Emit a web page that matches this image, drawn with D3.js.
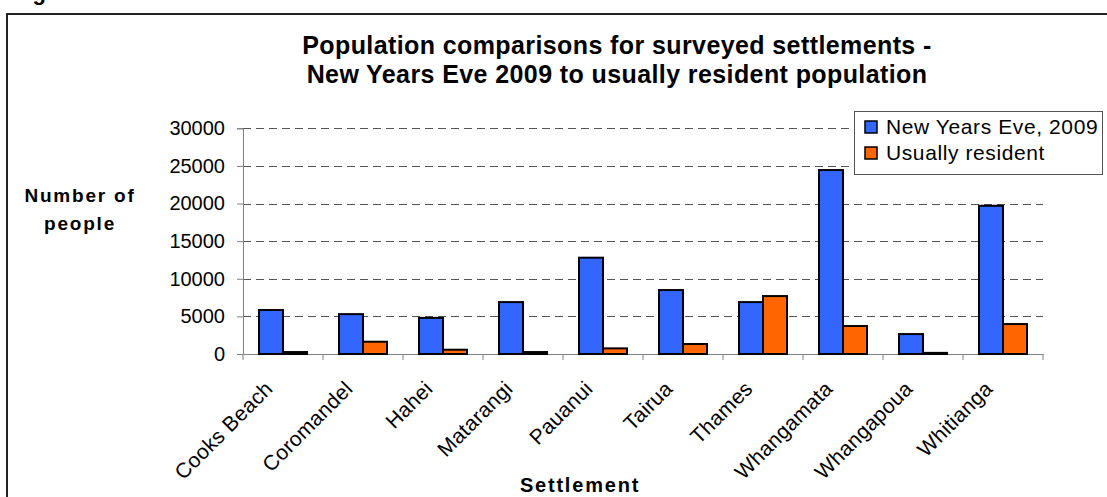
<!DOCTYPE html>
<html><head><meta charset="utf-8">
<script src="https://cdn.jsdelivr.net/npm/d3@7"></script>
<style>
html,body{margin:0;padding:0;background:#fff;}
svg{display:block;font-family:Arial,"Liberation Sans",sans-serif;}
</style></head>
<body>
<svg id="chart" width="1107" height="497"></svg>
<script>
const categories = ["Cooks Beach","Coromandel","Hahei","Matarangi","Pauanui","Tairua","Thames","Whangamata","Whangapoua","Whitianga"];
const nye2009 = [5850, 5300, 4800, 6900, 12800, 8500, 6900, 24450, 2650, 19700];
const usuallyResident = [260, 1630, 570, 260, 750, 1330, 7700, 3720, 150, 3980];
const seriesNames = ["New Years Eve, 2009", "Usually resident"];
const seriesColors = ["#3366FF", "#FF6600"];
const yTicks = [0, 5000, 10000, 15000, 20000, 25000, 30000];

(function(){
const svg = d3.select("#chart");
const pL = 243, pR = 1043, pT = 128.3, pB = 354;

// outer frame
svg.append("path").attr("d", "M7,497 V14 H1107").attr("fill","none").attr("stroke","#222").attr("stroke-width",2);
// cut-off figure caption (only its descender shows in the reference)
svg.append("text").attr("x", 13).attr("y", 0).attr("font-size", 22).attr("font-weight","bold").text("Figure");

const x = d3.scaleBand().domain(categories).range([pL, pR]);
const y = d3.scaleLinear().domain([0, 30000]).range([pB, pT]);

// gridlines
svg.append("g").selectAll("line").data(yTicks.filter(d => d > 0)).join("line")
  .attr("x1", pL).attr("x2", pR).attr("y1", d => Math.round(y(d))+0.5).attr("y2", d => Math.round(y(d))+0.5)
  .attr("stroke", "#555").attr("stroke-width", 1).attr("stroke-dasharray", "8,5");

// y axis
const yAxis = svg.append("g").attr("transform", `translate(${pL},0)`)
  .call(d3.axisLeft(y).tickValues(yTicks).tickSize(6).tickPadding(12).tickFormat(d3.format("d")));
yAxis.select(".domain").attr("stroke", "#808080");
yAxis.selectAll(".tick line").attr("stroke", "#808080");
yAxis.selectAll("text").attr("font-size", 20).attr("font-family","Arial,'Liberation Sans',sans-serif").attr("fill","#000");

// x axis
const xAxis = svg.append("g").attr("transform", `translate(0,${pB})`)
  .call(d3.axisBottom(x).tickSize(0).tickFormat(""));
xAxis.select(".domain").attr("stroke", "#808080");
const boundaries = d3.range(categories.length + 1).map(i => pL + i * x.step());
svg.append("g").selectAll("line").data(boundaries).join("line")
  .attr("x1", d => d).attr("x2", d => d).attr("y1", pB).attr("y2", pB + 6)
  .attr("stroke", "#808080");

// bars
const inner = d3.scaleBand().domain([0,1]).range([16, 64]);
const data = categories.map((c, i) => ({c, v: [nye2009[i], usuallyResident[i]]}));
const groups = svg.append("g").selectAll("g").data(data).join("g")
  .attr("transform", d => `translate(${x(d.c)},0)`);
groups.selectAll("rect").data(d => d.v.map((v, k) => ({v, k}))).join("rect")
  .attr("x", d => inner(d.k)).attr("width", inner.bandwidth())
  .attr("y", d => y(d.v)).attr("height", d => pB - y(d.v))
  .attr("fill", d => seriesColors[d.k]).attr("stroke", "#000").attr("stroke-width", 2);

// x labels
svg.append("g").selectAll("text").data(categories).join("text")
  .attr("transform", d => `translate(${x(d) + x.bandwidth()/2 - 9},${pB + 36}) rotate(-45)`)
  .attr("text-anchor", "end").attr("font-size", 21).attr("letter-spacing", 0.3).text(d => d);

// titles
svg.append("text").attr("x", 617).attr("y", 54).attr("text-anchor","middle")
  .attr("font-size", 25).attr("font-weight","bold").attr("letter-spacing", 0.4)
  .text("Population comparisons for surveyed settlements -");
svg.append("text").attr("x", 617).attr("y", 83).attr("text-anchor","middle")
  .attr("font-size", 25).attr("font-weight","bold").attr("letter-spacing", 0.4)
  .text("New Years Eve 2009 to usually resident population");
svg.append("text").attr("x", 80).attr("y", 202).attr("text-anchor","middle")
  .attr("font-size", 19).attr("font-weight","bold").attr("letter-spacing", 1.8).text("Number of");
svg.append("text").attr("x", 80).attr("y", 230).attr("text-anchor","middle")
  .attr("font-size", 19).attr("font-weight","bold").attr("letter-spacing", 1.8).text("people");
svg.append("text").attr("x", 580).attr("y", 492).attr("text-anchor","middle")
  .attr("font-size", 20).attr("font-weight","bold").attr("letter-spacing", 1.8).text("Settlement");

// legend
const lg = svg.append("g");
lg.append("rect").attr("x", 854.5).attr("y", 111.5).attr("width", 248).attr("height", 63)
  .attr("fill", "#fff").attr("stroke", "#555").attr("stroke-width", 1);
seriesNames.forEach((n, k) => {
  lg.append("rect").attr("x", 865).attr("y", 121 + k * 26).attr("width", 12).attr("height", 12)
    .attr("fill", seriesColors[k]).attr("stroke", "#000").attr("stroke-width", 1.5);
  lg.append("text").attr("x", 886).attr("y", 134 + k * 25.5).attr("font-size", 21)
    .attr("letter-spacing", 0.6).text(n);
});
})();
</script>
</body></html>
